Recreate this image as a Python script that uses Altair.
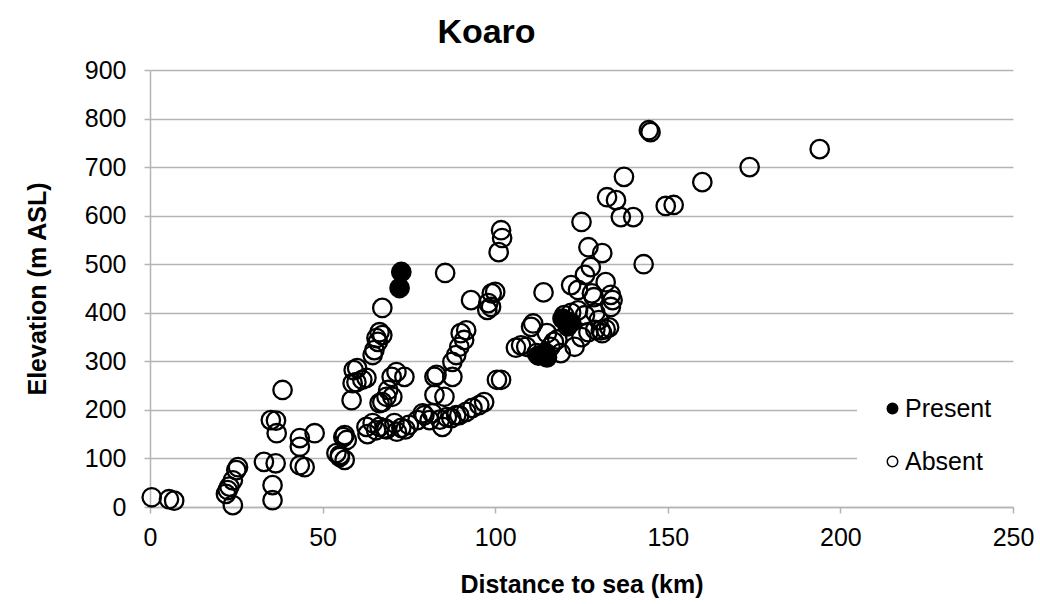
import altair as alt
import pandas as pd

# Sites where koaro were recorded (distance to sea in km, elevation in m ASL)
present_km = [72.8, 72.3, 112.5, 114.5, 115.0, 119.5, 121.0, 122.0]
present_m = [484, 451, 312, 318, 308, 388, 372, 380]

# Sites surveyed without koaro
absent_km = [
    0.5, 5.5, 7.0, 22.0, 23.0, 22.5, 24.0, 25.0, 25.5, 24.0,
    33.0, 35.5, 35.5, 36.4, 35.0, 36.5, 36.7, 38.4, 43.4, 43.4, 47.7, 43.4, 44.8,
    54.0, 55.0, 56.4, 55.0, 56.0, 57.0, 58.4, 58.7, 59.0, 60.0, 59.8, 62.7, 61.5,
    64.5, 65.0, 65.6, 66.0, 66.5, 67.3, 67.3,
    66.5, 67.3, 68.5, 69.0, 70.0, 71.4, 73.7, 70.2,
    56.4, 62.7, 64.5, 66.5, 68.5, 70.8, 72.8, 75.0, 77.5, 79.5, 81.8, 84.0, 86.0, 88.7,
    63.0, 65.5, 68.0, 71.5, 74.0, 79.0, 81.0, 84.7, 87.3, 89.6, 91.6, 93.4, 95.4, 96.8,
    90.0, 91.6, 91.0, 89.6, 88.7, 87.6, 87.6, 82.4, 82.4, 85.3, 83.0,
    85.5, 93.0, 97.7, 98.0, 99.0, 100.0, 98.8, 101.0, 101.7, 102.0, 100.5, 101.7,
    109.0, 110.4, 106.0, 107.5, 114.0, 122.0, 126.0, 124.0, 127.7, 127.0, 131.0, 125.0,
    132.0, 133.5, 134.0, 133.5, 128.0, 130.6, 133.0, 119.0, 123.0, 111.0, 115.0, 112.0,
    117.0, 118.0, 125.0, 127.0, 129.0, 131.0, 126.0, 124.0, 129.0, 130.0, 122.0, 120.0,
    116.0, 132.0, 143.0, 128.6,
    144.5, 145.0, 194.0, 173.7, 160.0, 137.3, 132.4, 135.0, 136.4, 140.0, 149.4, 151.7,
]
absent_m = [
    20, 16, 13, 27, 42, 35, 55, 76, 82, 4,
    93, 14, 45, 90, 179, 178, 152, 241, 142, 124, 152, 86, 82,
    111, 103, 97, 107, 144, 138, 220, 255, 282, 286, 257, 266, 262,
    313, 323, 348, 340, 360, 354, 410,
    214, 216, 227, 241, 268, 278, 268, 227,
    148, 165, 173, 165, 160, 173, 163, 169, 179, 189, 193, 180, 185, 189,
    150, 158, 162, 155, 160, 193, 179, 165, 183, 189, 196, 204, 210, 216,
    358, 364, 344, 330, 313, 299, 268, 268, 231, 227, 272,
    482, 426, 406, 420, 440, 443, 412, 525, 570, 554, 262, 262,
    330, 371, 328, 333, 442, 457, 478, 447, 494, 535, 523, 587,
    463, 437, 426, 412, 440, 364, 370, 317, 330, 378, 358, 317,
    340, 345, 350, 360, 365, 358, 395, 405, 400, 385, 400, 395,
    330, 366, 500, 432,
    776, 772, 737, 700, 669, 680, 638, 632, 597, 597, 620, 622,
]

x_ticks = [0, 50, 100, 150, 200, 250]
y_ticks = [0, 100, 200, 300, 400, 500, 600, 700, 800, 900]

df = pd.concat([
    pd.DataFrame({"dist": present_km, "elev": present_m, "status": "Present"}),
    pd.DataFrame({"dist": absent_km, "elev": absent_m, "status": "Absent"}),
], ignore_index=True)

FONT = "Liberation Sans"
GRID = "#b4b4b4"

chart = (
    alt.Chart(df)
    .mark_point(shape="circle", filled=True, size=340, stroke="black",
                strokeWidth=2.3, opacity=1, fillOpacity=1)
    .encode(
        x=alt.X("dist:Q", title="Distance to sea (km)",
                scale=alt.Scale(domain=[0, 250], nice=False, zero=False),
                axis=alt.Axis(values=x_ticks, grid=False, labelFontSize=25,
                              labelFlush=False, labelPadding=12, titlePadding=22)),
        y=alt.Y("elev:Q", title="Elevation (m ASL)",
                scale=alt.Scale(domain=[0, 900], nice=False),
                axis=alt.Axis(values=y_ticks, grid=True, labelFontSize=25,
                              labelFlush=False, labelPadding=18, titlePadding=34)),
        fill=alt.Fill("status:N",
                      scale=alt.Scale(domain=["Present", "Absent"],
                                      range=["black", "transparent"]),
                      legend=alt.Legend(title=None, orient="none",
                                        legendX=707, legendY=303,
                                        fillColor="white", padding=23,
                                        symbolSize=110, symbolStrokeWidth=1.5,
                                        symbolStrokeColor="black",
                                        labelFontSize=25, labelFont=FONT,
                                        labelColor="black", labelOffset=0,
                                        rowPadding=27)),
        order=alt.Order("status:N", sort="descending"),
    )
    .properties(
        width=863, height=437,
        title=alt.TitleParams("Koaro", fontSize=34, font=FONT, fontWeight="bold",
                              anchor="middle", dx=-95, offset=8, color="black"),
        autosize=alt.AutoSizeParams(type="none"),
        padding={"left": 150, "top": 70, "right": 27, "bottom": 97},
    )
    .configure_view(stroke=None)
    .configure_axis(
        labelFont=FONT, titleFont=FONT, titleFontSize=25, titleFontWeight="bold",
        labelColor="black", titleColor="black",
        domainColor=GRID, domainWidth=1.5, tickColor=GRID, tickWidth=1.5,
        tickSize=6, gridColor=GRID, gridWidth=1.5,
    )
)

chart.save("out.html", embed_options={"renderer": "svg", "actions": False})
